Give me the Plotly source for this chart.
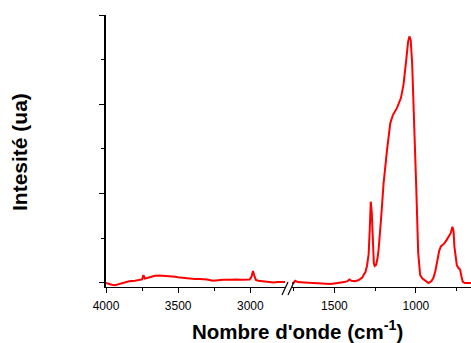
import plotly.graph_objects as go

# High-wavenumber region (cm-1) and intensity (a.u.)
wn_high = [4000, 3985, 3960, 3938, 3915, 3890, 3869, 3840, 3800, 3770, 3750, 3740, 3732,
           3715, 3690, 3661, 3630, 3600, 3570, 3540, 3520, 3490, 3460, 3420, 3385, 3350,
           3300, 3260, 3230, 3190, 3142, 3100, 3060, 3030, 3005, 2992, 2982, 2972, 2962,
           2945, 2920, 2890, 2866, 2840, 2810, 2780, 2760]
int_high = [0.00, -0.01, -0.02, -0.025, -0.015, 0.0, 0.01, 0.02, 0.025, 0.035, 0.04, 0.09, 0.05,
            0.055, 0.07, 0.08, 0.085, 0.08, 0.075, 0.078, 0.07, 0.06, 0.055, 0.05, 0.045, 0.045,
            0.04, 0.025, 0.03, 0.035, 0.035, 0.04, 0.035, 0.035, 0.04, 0.07, 0.135, 0.08, 0.035,
            0.025, 0.02, 0.015, 0.01, 0.005, 0.012, 0.01, 0.012]

# Fingerprint region (cm-1) and intensity (a.u.)
wn_low = [1760, 1751, 1740, 1725, 1708, 1680, 1647, 1620, 1586, 1560, 1525, 1500, 1463, 1440,
          1420, 1408, 1395, 1375, 1353, 1340, 1329, 1318, 1310, 1300, 1290, 1283, 1277, 1271,
          1265, 1258, 1253, 1245, 1237, 1229, 1214, 1198, 1177, 1157, 1141, 1116, 1092, 1076,
          1059, 1048, 1040, 1032, 1023, 1010, 998, 986, 974, 960, 943, 923, 905, 892, 880, 868,
          857, 847, 835, 827, 812, 800, 786, 776, 769, 764, 757, 749, 740, 729, 720, 713, 700,
          688, 662]
int_low = [0.0, 0.0, 0.025, 0.01, 0.008, 0.005, 0.0, -0.005, -0.01, -0.008, -0.012, -0.005, 0.0, 0.01,
           0.02, 0.04, 0.025, 0.02, 0.03, 0.045, 0.06, 0.1, 0.12, 0.19, 0.32, 0.6, 0.91, 0.8,
           0.45, 0.22, 0.19, 0.2, 0.26, 0.37, 0.71, 1.12, 1.49, 1.79, 1.88, 1.96, 2.07, 2.22,
           2.50, 2.70, 2.76, 2.72, 2.46, 1.83, 1.08, 0.34, 0.09, 0.05, 0.03, 0.0, 0.02, 0.06, 0.14, 0.26,
           0.36, 0.41, 0.43, 0.44, 0.48, 0.52, 0.56, 0.63, 0.58, 0.41, 0.28, 0.20, 0.17, 0.15, 0.07, 0.015, 0.0,
           0.0, 0.0]

W, H = 471, 343
L, R, T, B = 106, 0, 15, 56
pw, ph = W - L - R, H - T - B


def px(x):
    return (x - L) / pw


def py(y):
    return (H - B - y) / ph


line_style = dict(color="#ff0000", width=2)
fig = go.Figure()
fig.add_trace(go.Scatter(x=wn_high, y=int_high, mode="lines", line=line_style,
                         xaxis="x", yaxis="y", showlegend=False))
fig.add_trace(go.Scatter(x=wn_low, y=int_low, mode="lines", line=line_style,
                         xaxis="x2", yaxis="y", showlegend=False))

tick_font = dict(family="Liberation Sans, Arial, sans-serif", size=12, color="black")
common_x = dict(showline=True, linecolor="black", linewidth=1, ticks="outside", ticklen=5,
                tickcolor="black", showgrid=False, zeroline=False, dtick=500, tick0=0,
                tickfont=tick_font, ticklabelstandoff=3,
                minor=dict(dtick=250, ticks="outside", ticklen=3, tickcolor="black"))

fig.update_layout(
    width=W, height=H,
    margin=dict(l=L, r=R, t=T, b=B),
    plot_bgcolor="white", paper_bgcolor="white",
    xaxis=dict(domain=[0, px(285)], range=[4000, 2760], anchor="y", **common_x),
    xaxis2=dict(domain=[px(292), 1], range=[1760, 662], anchor="y", **common_x),
    yaxis=dict(range=[-0.045, 3], showline=True, linecolor="black", linewidth=1.5,
               ticks="outside", ticklen=5, tickcolor="black", showticklabels=False,
               showgrid=False, zeroline=False, dtick=1, tick0=0,
               minor=dict(dtick=0.5, ticks="outside", ticklen=3, tickcolor="black")),
)

# axis break marks
for x0 in (282, 288):
    fig.add_shape(type="line", xref="paper", yref="paper",
                  x0=px(x0), y0=py(295), x1=px(x0 + 6), y1=py(282),
                  line=dict(color="black", width=1.2))

fig.add_annotation(text="<b>Nombre d'onde (cm<sup>-1</sup>)</b>", xref="paper", yref="paper",
                   x=px(297), y=py(330), xanchor="center", yanchor="middle",
                   showarrow=False,
                   font=dict(family="Liberation Sans, Arial, sans-serif", size=20.5, color="black"))
fig.add_annotation(text="<b>Intesité (ua)</b>", xref="paper", yref="paper",
                   x=px(19), y=py(152), xanchor="center", yanchor="middle", textangle=-90,
                   showarrow=False,
                   font=dict(family="Liberation Sans, Arial, sans-serif", size=21, color="black"))

fig.write_html("out.html")
